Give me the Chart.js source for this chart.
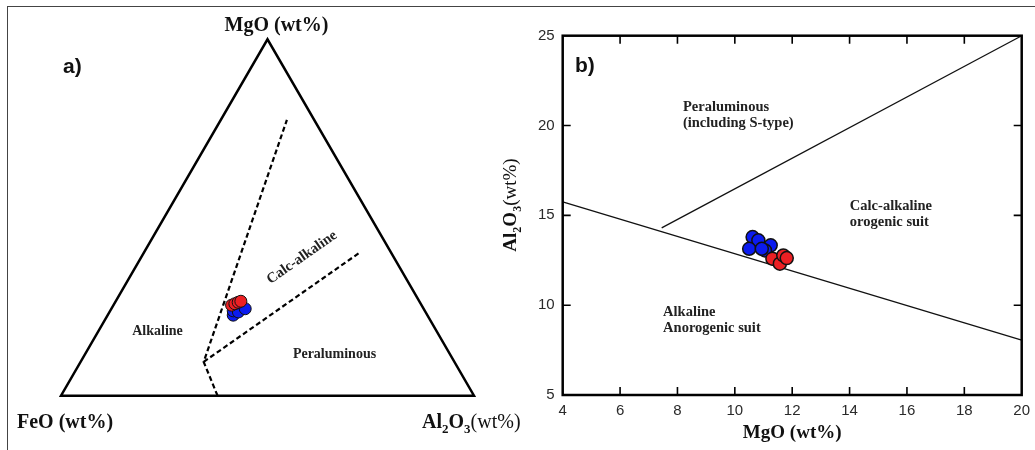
<!DOCTYPE html>
<html>
<head>
<meta charset="utf-8">
<script src="https://cdn.jsdelivr.net/npm/chart.js@4.4.1/dist/chart.umd.min.js"></script>
<style>
  html, body { margin: 0; padding: 0; background: #fff; }
  #wrap { position: relative; width: 1035px; height: 450px; overflow: hidden; }
  #frame { position: absolute; left: 7px; top: 6px; width: 1100px; height: 500px;
           border-top: 1.5px solid #444; border-left: 1.5px solid #444; }
  #cA { position: absolute; left: 0; top: 0; }
  #cB { position: absolute; left: 495px; top: 0; }
</style>
</head>
<body>
<div id="wrap">
  <div id="frame"></div>
  <canvas id="cA" width="525" height="450" style="width:525px;height:450px"></canvas>
  <canvas id="cB" width="540" height="450" style="width:540px;height:450px"></canvas>
</div>
<script>
// ---- b) MgO vs Al2O3 (wt%) ----
const blueMgO   = [10.62, 10.82, 10.50, 11.25, 11.05, 10.94];
const blueAl2O3 = [13.79, 13.61, 13.14, 13.33, 13.05, 13.14];
const redMgO    = [11.31, 11.57, 11.69, 11.81];
const redAl2O3  = [12.59, 12.31, 12.77, 12.62];

// boundary lines in b)
const alkLineMgO   = [4, 20];
const alkLineAl2O3 = [15.75, 8.05];
const perLineMgO   = [7.45, 20];
const perLineAl2O3 = [14.3, 25];

const xTicksB = [4, 6, 8, 10, 12, 14, 16, 18, 20];
const yTicksB = [5, 10, 15, 20, 25];

// ---- a) ternary MgO - FeO - Al2O3 (normalised %) ----
const ternBlueMgO   = [22.6, 23.8, 23.5, 24.4];
const ternBlueFeO   = [47.0, 46.4, 45.3, 43.2];
const ternBlueAl2O3 = [30.4, 29.8, 31.2, 32.4];
const ternRedMgO    = [25.4, 25.8, 26.2, 26.5];
const ternRedFeO    = [46.0, 45.0, 44.0, 43.2];
const ternRedAl2O3  = [28.6, 29.2, 29.8, 30.3];

// triangle outline: FeO -> Al2O3 -> MgO -> FeO (-> Al2O3 to close the corner)
const triMgO   = [0, 0, 100, 0, 0];
const triFeO   = [100, 0, 0, 100, 0];
const triAl2O3 = [0, 100, 0, 0, 100];

// dashed field boundaries
const dash1MgO   = [0, 9.5, 77.4];
const dash1FeO   = [62.1, 60.7, 6.6];
const dash1Al2O3 = [37.9, 29.8, 16.0];
const dash2MgO   = [9.5, 40.1];
const dash2FeO   = [60.7, 7.7];
const dash2Al2O3 = [29.8, 52.2];

const RED = '#ec2024';
const BLUE = '#0b1bef';
const SERIF = "'Liberation Serif', 'Times New Roman', serif";
const SANS = "'Liberation Sans', Arial, sans-serif";
const NARROW = "'Liberation Sans Narrow', 'Liberation Sans', Arial, sans-serif";

// ternary -> cartesian
function tern(mg, fe, al) {
  return mg.map((m, i) => {
    const s = m + fe[i] + al[i];
    return { x: (al[i] + m / 2) / s, y: (m / s) * Math.sqrt(3) / 2 };
  });
}
function pairs(xs, ys) {
  return xs.map((x, i) => ({ x: x, y: ys[i] }));
}

// text made of pieces (bold, subscripts ...)
function drawRich(ctx, segs, x, y, align) {
  let w = 0;
  segs.forEach(s => { ctx.font = s.font; w += ctx.measureText(s.t).width; });
  let cx = align === 'center' ? x - w / 2 : x;
  ctx.textAlign = 'left';
  segs.forEach(s => {
    ctx.font = s.font;
    ctx.fillText(s.t, cx, y + (s.dy || 0));
    cx += ctx.measureText(s.t).width;
  });
}
function al2o3Segs(size) {
  const sub = Math.round(size * 0.65);
  return [
    { t: 'Al', font: 'bold ' + size + 'px ' + SERIF },
    { t: '2', font: 'bold ' + sub + 'px ' + SERIF, dy: size * 0.25 },
    { t: 'O', font: 'bold ' + size + 'px ' + SERIF },
    { t: '3', font: 'bold ' + sub + 'px ' + SERIF, dy: size * 0.25 },
    { t: '(wt%)', font: size + 'px ' + SERIF }
  ];
}

// ---------- panel a ----------
const ternText = {
  id: 'ternText',
  afterDraw(chart) {
    const ctx = chart.ctx;
    ctx.save();
    ctx.fillStyle = '#111';
    ctx.textBaseline = 'alphabetic';
    ctx.textAlign = 'center';
    ctx.font = 'bold 20px ' + SERIF;
    ctx.fillText('MgO (wt%)', 276.5, 31);
    ctx.textAlign = 'left';
    ctx.fillText('FeO (wt%)', 17, 428);
    drawRich(ctx, al2o3Segs(20), 422, 428, 'left');
    ctx.font = 'bold 21px ' + SANS;
    ctx.fillText('a)', 63, 73);

    ctx.fillStyle = '#222';
    ctx.font = 'bold 14px ' + SERIF;
    ctx.textAlign = 'center';
    ctx.fillText('Alkaline', 157.5, 334.5);
    ctx.fillText('Peraluminous', 334.5, 357.5);
    ctx.translate(302, 257.5);
    ctx.rotate(-35 * Math.PI / 180);
    ctx.font = 'bold 14.5px ' + SERIF;
    ctx.textBaseline = 'middle';
    ctx.fillText('Calc-alkaline', 0, 0);
    ctx.restore();
  }
};

new Chart(document.getElementById('cA'), {
  type: 'scatter',
  data: {
    datasets: [
      { label: 'red', data: tern(ternRedMgO, ternRedFeO, ternRedAl2O3),
        backgroundColor: RED, borderColor: '#111', borderWidth: 1, pointRadius: 6, order: 1, clip: false },
      { label: 'blue', data: tern(ternBlueMgO, ternBlueFeO, ternBlueAl2O3),
        backgroundColor: BLUE, borderColor: '#111', borderWidth: 1, pointRadius: 6, order: 2, clip: false },
      { label: 'triangle', data: tern(triMgO, triFeO, triAl2O3), showLine: true,
        borderColor: '#000', borderWidth: 2.5, pointRadius: 0, order: 3, clip: false },
      { label: 'dash1', data: tern(dash1MgO, dash1FeO, dash1Al2O3), showLine: true,
        borderColor: '#000', borderWidth: 2.2, borderDash: [5, 3], pointRadius: 0, order: 4, clip: false },
      { label: 'dash2', data: tern(dash2MgO, dash2FeO, dash2Al2O3), showLine: true,
        borderColor: '#000', borderWidth: 2.2, borderDash: [5, 3], pointRadius: 0, order: 4, clip: false }
    ]
  },
  options: {
    responsive: false,
    animation: false,
    events: [],
    layout: { padding: { left: 61, right: 51, top: 39.3, bottom: 54.3 } },
    scales: {
      x: { type: 'linear', display: false, min: 0, max: 1 },
      y: { type: 'linear', display: false, min: 0, max: Math.sqrt(3) / 2 }
    },
    plugins: { legend: { display: false }, tooltip: { enabled: false } }
  },
  plugins: [ternText]
});

// ---------- panel b ----------
const notesB = [
  { lines: ['Peraluminous', '(including S-type)'], mgo: 8.19, al: 20.8 },
  { lines: ['Calc-alkaline', 'orogenic suit'], mgo: 14.01, al: 15.32 },
  { lines: ['Alkaline', 'Anorogenic suit'], mgo: 7.5, al: 9.4 }
];

const boxB = {
  id: 'boxB',
  afterDatasetsDraw(chart) {
    const ctx = chart.ctx;
    const a = chart.chartArea;
    const xs = chart.scales.x, ys = chart.scales.y;
    ctx.save();
    ctx.strokeStyle = '#000';
    // inward ticks
    ctx.lineWidth = 1.6;
    ctx.beginPath();
    xTicksB.slice(1, -1).forEach(v => {
      const px = xs.getPixelForValue(v);
      ctx.moveTo(px, a.bottom); ctx.lineTo(px, a.bottom - 8);
      ctx.moveTo(px, a.top); ctx.lineTo(px, a.top + 8);
    });
    yTicksB.slice(1, -1).forEach(v => {
      const py = ys.getPixelForValue(v);
      ctx.moveTo(a.left, py); ctx.lineTo(a.left + 8, py);
      ctx.moveTo(a.right, py); ctx.lineTo(a.right - 8, py);
    });
    ctx.stroke();
    ctx.lineWidth = 2.5;
    ctx.strokeRect(a.left, a.top, a.right - a.left, a.bottom - a.top);

    // field names
    ctx.fillStyle = '#222';
    ctx.font = 'bold 14.5px ' + SERIF;
    ctx.textAlign = 'left';
    ctx.textBaseline = 'alphabetic';
    notesB.forEach(n => {
      const px = xs.getPixelForValue(n.mgo), py = ys.getPixelForValue(n.al);
      n.lines.forEach((t, i) => ctx.fillText(t, px, py + i * 16));
    });

    ctx.fillStyle = '#111';
    ctx.font = 'bold 21px ' + SANS;
    ctx.fillText('b)', 80, 72);

    // y title
    ctx.translate(21, 205);
    ctx.rotate(-Math.PI / 2);
    drawRich(ctx, al2o3Segs(19), 0, 0, 'center');
    ctx.restore();
  }
};

new Chart(document.getElementById('cB'), {
  type: 'scatter',
  data: {
    datasets: [
      { label: 'red', data: pairs(redMgO, redAl2O3),
        backgroundColor: RED, borderColor: '#111', borderWidth: 1.5, pointRadius: 6.5, order: 1, clip: false },
      { label: 'blue', data: pairs(blueMgO, blueAl2O3),
        backgroundColor: BLUE, borderColor: '#111', borderWidth: 1.5, pointRadius: 6.5, order: 2 , clip: false},
      { label: 'alkaline', data: pairs(alkLineMgO, alkLineAl2O3), showLine: true,
        borderColor: '#111', borderWidth: 1.3, pointRadius: 0, order: 3 },
      { label: 'peraluminous', data: pairs(perLineMgO, perLineAl2O3), showLine: true,
        borderColor: '#111', borderWidth: 1.3, pointRadius: 0, order: 3 }
    ]
  },
  options: {
    responsive: false,
    animation: false,
    events: [],
    layout: { padding: { left: 0, right: 13.3, top: 35.7, bottom: 0 } },
    scales: {
      x: {
        type: 'linear', min: 4, max: 20,
        afterBuildTicks: s => { s.ticks = xTicksB.map(v => ({ value: v })); },
        afterFit: s => { s.height = 55; s.paddingLeft = 0; s.paddingRight = 0; },
        grid: { display: false, drawTicks: false },
        border: { display: false },
        ticks: { padding: 7, color: '#2a2a2a', font: { family: NARROW, size: 15 } },
        title: { display: true, text: 'MgO (wt%)', color: '#111',
                 font: { family: SERIF, size: 19, weight: 'bold' }, padding: { top: 0, bottom: 6 } }
      },
      y: {
        type: 'linear', min: 5, max: 25,
        afterBuildTicks: s => { s.ticks = yTicksB.map(v => ({ value: v })); },
        afterFit: s => { s.width = 67.7; s.paddingTop = 0; s.paddingBottom = 0; },
        grid: { display: false, drawTicks: false },
        border: { display: false },
        ticks: { padding: 8, color: '#2a2a2a', font: { family: NARROW, size: 15 } }
      }
    },
    plugins: { legend: { display: false }, tooltip: { enabled: false } }
  },
  plugins: [boxB]
});
</script>
</body>
</html>
